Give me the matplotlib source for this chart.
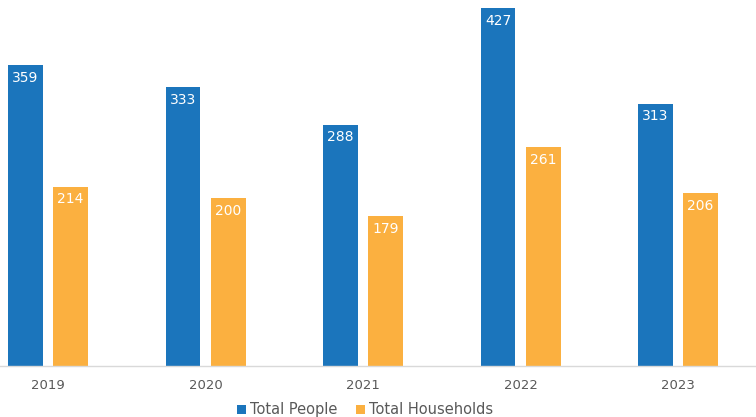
from matplotlib import pyplot as plt
import numpy as np

YEARS = ["2019", "2020", "2021", "2022", "2023"]
PEOPLE = [359, 333, 288, 427, 313]
HOUSEHOLDS = [214, 200, 179, 261, 206]

BLUE = "#1b75bc"
ORANGE = "#fbb040"

plt.rcParams['font.family'] = ['DejaVu Sans']

fig = plt.figure(figsize=(7.56, 4.17), dpi=100)
ax = fig.add_axes([0, 0.1223, 1, 0.8777])

x = np.arange(len(YEARS))
w = 0.222
off = 0.143
b1 = ax.bar(x - off, PEOPLE, w, color=BLUE, label="Total People")
b2 = ax.bar(x + off, HOUSEHOLDS, w, color=ORANGE, label="Total Households")

for bars in (b1, b2):
    for rect in bars:
        h = rect.get_height()
        ax.annotate(str(int(h)), (rect.get_x() + rect.get_width() / 2, h),
                    xytext=(0, -9), textcoords="offset points",
                    ha="center", va="center", color="white", fontsize=10)

ax.set_xlim(-0.305, 4.495)
ax.set_ylim(0, 437)
ax.set_xticks(x)
ax.set_xticklabels(YEARS, color="#595959", fontsize=9.5)
ax.tick_params(axis="x", length=0, pad=9)
ax.set_yticks([])
for s in ["top", "right", "left"]:
    ax.spines[s].set_visible(False)
ax.spines["bottom"].set_color("#d9d9d9")
ax.spines["bottom"].set_linewidth(1)

leg = fig.legend(loc="center", bbox_to_anchor=(0.483, 0.017), ncol=2, frameon=False,
                 fontsize=10.5, handlelength=0.6, handleheight=0.6, handletextpad=0.3,
                 columnspacing=1.3)
for t in leg.get_texts():
    t.set_color("#595959")

fig.savefig("out.png", dpi=100)
